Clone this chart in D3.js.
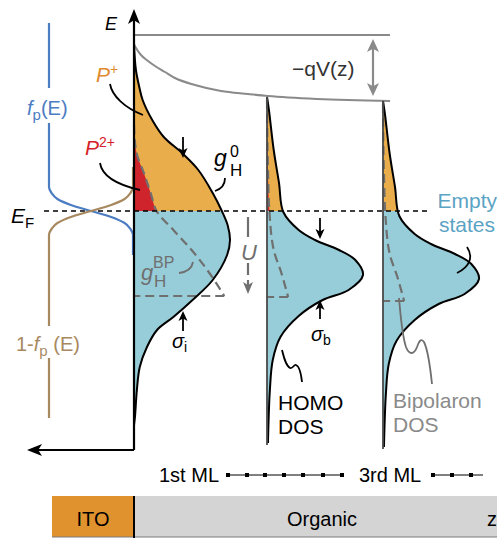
<!DOCTYPE html>
<html>
<head>
<meta charset="utf-8">
<script src="https://cdn.jsdelivr.net/npm/d3@7"></script>
<style>
  body { margin: 0; background: #fff; }
  svg { display: block; font-family: "Liberation Sans", Arial, Helvetica, sans-serif; }
</style>
</head>
<body>
<svg id="chart" width="497" height="538"></svg>
<script>
// ---- data (energies relative to E_F, z along the stack, g = normalised DOS) ----
const layerNames = ["1st ML", "3rd ML"];
const layerZ = [0, 13.3, 24.9];
const layerShift = [0, 0, -0.4];
const hasP2 = [true, true, false];

// interface (first monolayer) HOMO DOS, broadened by sigma_i
const interfaceE = [16.6, 14.1, 12.4, 11.1, 9.1, 7.4, 5.8, 4.1, 1.8, 0, -1.4, -2.9, -4.4, -6.9, -8.9, -10.6, -11.9, -13.6, -15.6, -17.9, -20.6, -21.4];
const interfaceG = [0, 0.02, 0.055, 0.09, 0.19, 0.31, 0.50, 0.67, 0.82, 0.915, 0.975, 1.0, 0.97, 0.82, 0.61, 0.41, 0.24, 0.135, 0.06, 0.03, 0.01, 0];

// bulk HOMO DOS, broadened by sigma_b
const bulkE = [11.4, 10.1, 6.1, 2.8, -0.1, -1.9, -2.9, -3.9, -4.9, -6.4, -7.9, -8.9, -10.5, -12.6, -14.9, -17.9, -23.2];
const bulkG = [0, 0.02, 0.07, 0.125, 0.17, 0.33, 0.5, 0.75, 0.92, 1.0, 0.85, 0.58, 0.33, 0.14, 0.06, 0.03, 0.01];

// bipolaron DOS (dashed), shifted down by U
const bpInterfaceE = [8.6, 6.1, 3.6, 1.6, 0, -1.9, -3.9, -6.4, -8.5];
const bpInterfaceG = [0, 0.02, 0.11, 0.18, 0.235, 0.41, 0.60, 0.80, 0.94];
const bpBulkE = [11.1, 4.1, 0, -3.9, -6.2, -8.6];
const bpBulkG = [0, 0.01, 0.025, 0.07, 0.15, 0.22];

// local vacuum level -qV(z)
const vacTopE = 17.6;
const vacZ = [0, 0.2, 0.7, 1.4, 2.1, 3.1, 4.1, 6.1, 8.7, 11.4, 13.4, 18.3, 25.6];
const vacE = [16.7, 16.3, 15.6, 15.0, 14.5, 13.9, 13.3, 12.6, 12.0, 11.7, 11.5, 11.2, 11.0];

// hole occupancy f_p(E)
const fermiE = [18.8, 4.4, 2.4, 1.8, 1.2, 0.6, 0, -0.6, -1.2, -1.8, -2.4, -4.4, -20.7];
const fermiF = [1, 1, 1, 0.97, 0.9, 0.74, 0.5, 0.26, 0.1, 0.03, 0, 0, 0];

// monolayer ruler ticks
const rulerA = [9.4, 11.3, 13.1, 15.0, 16.9, 18.9, 20.8];
const rulerB = [29.9, 31.8, 33.7];
const rulerBEnd = 34.9;

// ---- colours ----
const C = {
  orange: "#e9ad4b", blue: "#97cdd8", red: "#d0242c",
  gray: "#6f6f6f", lightGray: "#8a8a8a",
  fp: "#4c7cc2", onefp: "#a8895f", empty: "#5ba3c4",
  pText: "#e0892d", p2Text: "#d42129",
  ito: "#e0922f", organic: "#d4d4d4"
};

const svg = d3.select("#chart");
const yScale = d3.scaleLinear().domain([-24, 20]).range([451, 11]);
const zScale = d3.scaleLinear().domain([0, 36.3]).range([134, 497]);
const gScale = d3.scaleLinear().domain([0, 1]).range([0, 96]);
const fScale = d3.scaleLinear().domain([0, 1]).range([133, 49]);
const yF = yScale(0);
const dosCurve = d3.curveCatmullRom.alpha(0.5);

const defs = svg.append("defs");
defs.append("clipPath").attr("id", "above").append("rect")
  .attr("x", 0).attr("y", 0).attr("width", 497).attr("height", yF);
defs.append("clipPath").attr("id", "below").append("rect")
  .attr("x", 0).attr("y", yF).attr("width", 497).attr("height", 538 - yF);

function zip(E, G) { return E.map((e, i) => ({ e, g: G[i] })); }

const layers = layerZ.map((z, i) => ({
  x0: zScale(z),
  shift: layerShift[i],
  dos: i === 0 ? zip(interfaceE, interfaceG) : zip(bulkE, bulkG),
  bp: i === 0 ? zip(bpInterfaceE, bpInterfaceG) : zip(bpBulkE, bpBulkG),
  p2: hasP2[i]
}));

// ---- vacuum level and potential ----
svg.append("line")
  .attr("x1", zScale(0)).attr("x2", zScale(vacZ[vacZ.length - 1]))
  .attr("y1", yScale(vacTopE)).attr("y2", yScale(vacTopE))
  .attr("stroke", C.lightGray).attr("stroke-width", 2);
svg.append("path")
  .datum(vacZ.map((z, i) => [zScale(z), yScale(vacE[i])]))
  .attr("d", d3.line().curve(d3.curveMonotoneX))
  .attr("fill", "none").attr("stroke", C.lightGray).attr("stroke-width", 2);

// ---- DOS fills ----
layers.forEach(L => {
  const area = d3.area()
    .y(d => yScale(d.e + L.shift))
    .x0(L.x0).x1(d => L.x0 + gScale(d.g))
    .curve(dosCurve);
  svg.append("path").datum(L.dos).attr("d", area)
    .attr("fill", C.orange).attr("clip-path", "url(#above)");
  svg.append("path").datum(L.dos).attr("d", area)
    .attr("fill", C.blue).attr("clip-path", "url(#below)");
  if (L.p2) {
    svg.append("path").datum(L.bp).attr("d", area.curve(d3.curveMonotoneY))
      .attr("fill", C.red).attr("clip-path", "url(#above)");
  }
});

// ---- DOS outlines, bipolaron dashed lines, layer axes ----
layers.forEach((L, i) => {
  const line = d3.line()
    .y(d => yScale(d.e + L.shift))
    .x(d => L.x0 + gScale(d.g));
  svg.append("path").datum(L.bp).attr("d", line.curve(d3.curveMonotoneY))
    .attr("fill", "none").attr("stroke", C.gray).attr("stroke-width", 2.2)
    .attr("stroke-dasharray", "9,5");
  const corner = L.bp[L.bp.length - 1];
  svg.append("line")
    .attr("x1", L.x0 + gScale(corner.g)).attr("x2", L.x0)
    .attr("y1", yScale(corner.e + L.shift)).attr("y2", yScale(corner.e + L.shift))
    .attr("stroke", C.gray).attr("stroke-width", 2.2).attr("stroke-dasharray", "9,5");
  svg.append("path").datum(L.dos).attr("d", line.curve(dosCurve))
    .attr("fill", "none").attr("stroke", "#000").attr("stroke-width", 2);
  if (i > 0) {
    svg.append("line")
      .attr("x1", L.x0).attr("x2", L.x0)
      .attr("y1", yScale(L.dos[0].e + L.shift))
      .attr("y2", yScale(L.dos[L.dos.length - 1].e + L.shift) + 2)
      .attr("stroke", "#4a4a4a").attr("stroke-width", 1.8);
  }
});

// ---- Fermi level ----
svg.append("line")
  .attr("x1", 44).attr("x2", 428).attr("y1", yF).attr("y2", yF)
  .attr("stroke", "#000").attr("stroke-width", 1.6).attr("stroke-dasharray", "5,4");

// ---- occupancy curves ----
const fermi = fermiE.map((e, i) => ({ e, f: fermiF[i] }));
const fLine = acc => d3.line().x(d => fScale(acc(d))).y(d => yScale(d.e)).curve(d3.curveMonotoneY);
svg.append("path").datum(fermi.filter(d => d.e >= -4.4))
  .attr("d", fLine(d => d.f))
  .attr("fill", "none").attr("stroke", C.fp).attr("stroke-width", 2.2);
svg.append("path").datum(fermi.filter(d => d.e <= 4.4))
  .attr("d", fLine(d => 1 - d.f))
  .attr("fill", "none").attr("stroke", C.onefp).attr("stroke-width", 2.2);

// ---- energy axis and arrows ----
function head(x, y, dir, color, w, len) {
  let pts;
  if (dir === "up") pts = [[x, y], [x - w, y + len], [x, y + len * 0.75], [x + w, y + len]];
  else if (dir === "down") pts = [[x, y], [x - w, y - len], [x, y - len * 0.75], [x + w, y - len]];
  else pts = [[x, y], [x + len, y - w], [x + len * 0.75, y], [x + len, y + w]];
  svg.append("path").attr("d", "M" + pts.join("L") + "Z").attr("fill", color);
}
const axisBottom = yScale(-23.9);
svg.append("line").attr("x1", 134).attr("x2", 134).attr("y1", axisBottom).attr("y2", 16)
  .attr("stroke", "#000").attr("stroke-width", 2.2);
head(134, 9, "up", "#000", 6, 15);
svg.append("line").attr("x1", 134).attr("x2", 36).attr("y1", axisBottom).attr("y2", axisBottom)
  .attr("stroke", "#000").attr("stroke-width", 2);
head(27, axisBottom, "left", "#000", 6, 15);

// -qV(z) double arrow
const qvX = zScale(23.9);
svg.append("line").attr("x1", qvX).attr("x2", qvX)
  .attr("y1", yScale(vacTopE) + 8).attr("y2", yScale(vacE[vacE.length - 1]) - 9)
  .attr("stroke", C.lightGray).attr("stroke-width", 2.2);
head(qvX, yScale(vacTopE) + 4, "up", C.lightGray, 6, 13);
head(qvX, yScale(vacE[vacE.length - 1]) - 5, "down", C.lightGray, 6, 13);

// small pointer arrows
function arrow(x, y1, y2, color) {
  svg.append("line").attr("x1", x).attr("x2", x).attr("y1", y1)
    .attr("y2", y2 + (y2 > y1 ? -4 : 4)).attr("stroke", color).attr("stroke-width", 1.8);
  head(x, y2, y2 > y1 ? "down" : "up", color, 4.5, 10);
}
arrow(183, 137, 158, "#000");
arrow(320, 218, 239, "#000");
arrow(183, 331, 311, "#000");
arrow(320, 319, 300, "#000");

// U: bipolaron shift below E_F
const uX = zScale(11.4);
svg.append("line").attr("x1", uX).attr("x2", uX).attr("y1", yScale(-0.6)).attr("y2", yScale(-2.6))
  .attr("stroke", C.gray).attr("stroke-width", 2.2);
svg.append("line").attr("x1", uX).attr("x2", uX).attr("y1", yScale(-5.2)).attr("y2", yScale(-7.9))
  .attr("stroke", C.gray).attr("stroke-width", 2.2).attr("stroke-dasharray", "12,5");
head(uX, yScale(-8.3), "down", C.gray, 5, 12);

// ---- annotation leader lines ----
const leaders = [
  ["M110,84 C112,96 125,108 143,115", "#000"],
  ["M100,163 C102,176 118,185 140,190", "#000"],
  ["M225,178 C225,185 221,189 215,191", "#000"],
  ["M193,262 C192,268 187,272 179,273", C.gray],
  ["M467,247 C473,256 471,266 457,273", "#000"],
  ["M282,350 C284,358 286,366 290,368 C293,369 294,364 296,365 C299,366 301,373 302,382", "#000"],
  ["M399,298 C401,320 402,335 406,347 C409,355 414,355 417,347 C419,341 421,338 424,342 C428,350 430,365 432,384", C.gray]
];
leaders.forEach(([d, c]) => svg.append("path").attr("d", d)
  .attr("fill", "none").attr("stroke", c).attr("stroke-width", 1.8));

// ---- text ----
function label(x, y, parts, opts = {}) {
  const t = svg.append("text").attr("x", x).attr("y", y)
    .attr("fill", opts.fill || "#000").attr("font-size", opts.size || 21)
    .attr("text-anchor", opts.anchor || "start");
  parts.forEach(p => {
    const s = t.append("tspan").text(p.t);
    if (p.italic) s.attr("font-style", "italic");
    if (p.size) s.attr("font-size", p.size);
    if (p.dy) s.attr("dy", p.dy);
    if (p.dx) s.attr("dx", p.dx);
  });
  return t;
}
// gaps in the occupancy lines behind their labels
svg.append("rect").attr("x", 42).attr("y", 88).attr("width", 14).attr("height", 35).attr("fill", "#fff");
svg.append("rect").attr("x", 42).attr("y", 326).attr("width", 14).attr("height", 32).attr("fill", "#fff");

label(105, 30, [{ t: "E", italic: true }], { size: 18 });
label(11, 223, [{ t: "E", italic: true }, { t: "F", size: 15, dy: 5 }]);
label(27, 115, [{ t: "f", italic: true }, { t: "p", size: 15, dy: 5 }, { t: "(E)", dy: -5 }], { fill: C.fp, size: 20 });
label(16, 351, [{ t: "1-" }, { t: "f", italic: true }, { t: "p", size: 15, dy: 5 }, { t: " (E)", dy: -5 }], { fill: C.onefp, size: 20 });
label(96, 82, [{ t: "P", italic: true }, { t: "+", size: 14, dy: -8 }], { fill: C.pText });
label(85, 155, [{ t: "P", italic: true }, { t: "2+", size: 14, dy: -8 }], { fill: C.p2Text });
label(214, 166, [{ t: "g", italic: true }], { size: 23 });
label(230, 157, [{ t: "0" }], { size: 16 });
label(230, 176, [{ t: "H" }], { size: 17 });
label(141, 280, [{ t: "g", italic: true }], { size: 22, fill: C.gray });
label(153, 268, [{ t: "BP" }], { size: 16, fill: C.gray });
label(154, 287, [{ t: "H" }], { size: 17, fill: C.gray });
label(249, 260, [{ t: "U", italic: true }], { size: 22, fill: C.gray, anchor: "middle" });
label(172, 348, [{ t: "σ", italic: true }, { t: "i", size: 14, dy: 4 }], { size: 20 });
label(311, 341, [{ t: "σ", italic: true }, { t: "b", size: 14, dy: 4 }], { size: 20 });
label(292, 76, [{ t: "−qV(z)" }], { fill: "#333" });
label(497, 208, [{ t: "Empty" }], { fill: C.empty, anchor: "end" });
label(495, 232, [{ t: "states" }], { fill: C.empty, anchor: "end" });
label(278, 410, [{ t: "HOMO" }]);
label(278, 434, [{ t: "DOS" }]);
label(393, 408, [{ t: "Bipolaron" }], { fill: C.lightGray });
label(393, 432, [{ t: "DOS" }], { fill: C.lightGray });

// ---- monolayer ruler ----
const rulerY = 475;
label(159, 482, [{ t: layerNames[0] }], { size: 20 });
label(359, 482, [{ t: layerNames[1] }], { size: 20 });
svg.append("line").attr("x1", zScale(rulerA[0])).attr("x2", zScale(rulerA[rulerA.length - 1]))
  .attr("y1", rulerY).attr("y2", rulerY).attr("stroke", "#000").attr("stroke-width", 1);
svg.append("line").attr("x1", zScale(rulerB[0])).attr("x2", zScale(rulerBEnd))
  .attr("y1", rulerY).attr("y2", rulerY).attr("stroke", "#000").attr("stroke-width", 1);
svg.selectAll("rect.tick").data(rulerA.concat(rulerB)).join("rect").attr("class", "tick")
  .attr("x", d => zScale(d) - 2).attr("y", rulerY - 2).attr("width", 4).attr("height", 4)
  .attr("fill", "#000");

// ---- device stack bar ----
const barTop = 496, barBottom = 537;
svg.append("rect").attr("x", 52).attr("y", barTop).attr("width", zScale(0) - 52).attr("height", barBottom - barTop).attr("fill", C.ito);
svg.append("rect").attr("x", zScale(0)).attr("y", barTop).attr("width", 497 - zScale(0)).attr("height", barBottom - barTop).attr("fill", C.organic);
svg.append("line").attr("x1", 52).attr("x2", 497).attr("y1", barBottom).attr("y2", barBottom).attr("stroke", "#7a7a7a").attr("stroke-width", 1.2);
svg.append("line").attr("x1", zScale(0)).attr("x2", zScale(0)).attr("y1", barTop).attr("y2", 538).attr("stroke", "#000").attr("stroke-width", 2);
label(93, 526, [{ t: "ITO" }], { anchor: "middle", size: 20 });
label(322, 526, [{ t: "Organic" }], { anchor: "middle", size: 20 });
label(487, 526, [{ t: "z" }], { size: 20 });
</script>
</body>
</html>
